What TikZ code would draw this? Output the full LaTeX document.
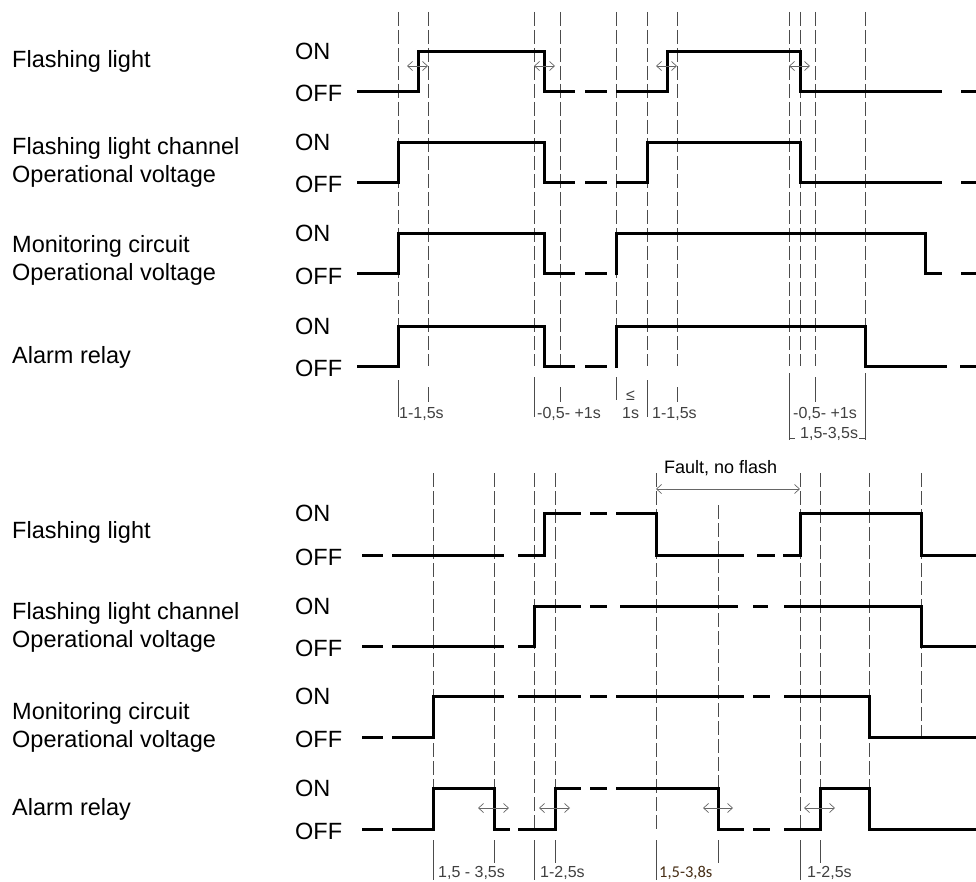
\documentclass[tikz,border=0pt]{standalone}
\usepackage{fontspec}
\setmainfont{Liberation Sans}
\newfontfamily\calfont{Carlito}
\usetikzlibrary{arrows.meta}
\begin{document}
\begin{tikzpicture}[x=1pt,y=-1pt,
 sig/.style={line width=3pt, line join=miter, line cap=butt},
 vl/.style={line width=0.9pt, black!70, dash pattern=on 14pt off 4pt},
 tk/.style={line width=0.9pt, black!70},
 lab/.style={anchor=base west, inner sep=0pt, font=\fontsize{23.5}{28}\selectfont},
 small/.style={anchor=base west, inner sep=0pt, font=\fontsize{16}{18}\selectfont, text=black!75},
 dimarr/.style={line width=0.7pt, black!60, {Straight Barb[length=5pt,width=9pt]}-{Straight Barb[length=5pt,width=9pt]}}
]
\useasboundingbox (0,0) rectangle (976,882);

% ---------- top diagram: vertical guide lines ----------
\foreach \x in {398,428,534,560,616,647,677,789,800,815,865}
  \draw[vl] (\x,12) -- (\x,366);
\foreach \x/\a/\b in {398/380/417,428/387/402,534/377/417,560/387/402,616/377/400,647/380/417,677/387/402,789/373/440,815/377/402,865/373/440}
  \draw[tk] (\x,\a) -- (\x,\b);
\draw[tk] (789,438) -- (795,438);
\draw[tk] (859,438) -- (865,438);

% ---------- bottom diagram: vertical guide lines ----------
\foreach \x/\t/\e in {433/473/829,494/473/829,534/473/829,555/473/829,656/473/829,718/505/829,800/473/829,820/473/829,869/473/788,921/473/737}
  \draw[vl] (\x,\t) -- (\x,\e);
\foreach \x/\b in {433/880,494/863,534/880,555/863,656/880,718/863,800/880,820/863}
  \draw[tk] (\x,840) -- (\x,\b);

% ---------- top signals ----------
% row 1
\draw[sig] (357,92) -- (418,92) -- (418,52) -- (544,52) -- (544,92) -- (575,92);
\draw[sig] (585,92) -- (607,92);
\draw[sig] (616,92) -- (667,92) -- (667,52) -- (800,52) -- (800,92) -- (942,92);
\draw[sig] (961,92) -- (976,92);
% row 2
\draw[sig] (357,183) -- (398,183) -- (398,143) -- (544,143) -- (544,183) -- (575,183);
\draw[sig] (585,183) -- (607,183);
\draw[sig] (616,183) -- (647,183) -- (647,143) -- (800,143) -- (800,183) -- (942,183);
\draw[sig] (961,183) -- (976,183);
% row 3
\draw[sig] (357,274) -- (398,274) -- (398,234) -- (544,234) -- (544,274) -- (575,274);
\draw[sig] (585,274) -- (607,274);
\draw[sig] (616,275.5) -- (616,234) -- (925,234) -- (925,274) -- (942,274);
\draw[sig] (961,274) -- (976,274);
% row 4
\draw[sig] (357,366) -- (398,366) -- (398,326) -- (544,326) -- (544,366) -- (575,366);
\draw[sig] (585,366) -- (607,366);
\draw[sig] (616,367.5) -- (616,326) -- (865,326) -- (865,366) -- (947,366);
\draw[sig] (960,366) -- (976,366);

% ---------- bottom signals ----------
% row 1
\draw[sig] (362,555) -- (383,555);
\draw[sig] (392,555) -- (504,555);
\draw[sig] (518,555) -- (544,555) -- (544,513) -- (581,513);
\draw[sig] (590,513) -- (607,513);
\draw[sig] (616,513) -- (656,513) -- (656,555) -- (744,555);
\draw[sig] (757,555) -- (775,555);
\draw[sig] (783,555) -- (800,555) -- (800,513) -- (921,513) -- (921,555) -- (976,555);
% row 2
\draw[sig] (362,646) -- (383,646);
\draw[sig] (392,646) -- (504,646);
\draw[sig] (518,646) -- (534,646) -- (534,606) -- (581,606);
\draw[sig] (590,606) -- (607,606);
\draw[sig] (620,606) -- (738,606);
\draw[sig] (753,606) -- (768,606);
\draw[sig] (784,606) -- (921,606) -- (921,646) -- (976,646);
% row 3
\draw[sig] (362,737) -- (383,737);
\draw[sig] (392,737) -- (433,737) -- (433,696) -- (504,696);
\draw[sig] (518,696) -- (581,696);
\draw[sig] (590,696) -- (607,696);
\draw[sig] (616,696) -- (744,696);
\draw[sig] (753,696) -- (770,696);
\draw[sig] (784,696) -- (869,696) -- (869,737) -- (976,737);
% row 4
\draw[sig] (362,829) -- (383,829);
\draw[sig] (392,829) -- (433,829) -- (433,788) -- (494,788) -- (494,829) -- (510,829);
\draw[sig] (518,829) -- (555,829) -- (555,788) -- (581,788);
\draw[sig] (590,788) -- (607,788);
\draw[sig] (616,788) -- (718,788) -- (718,829) -- (744,829);
\draw[sig] (753,829) -- (770,829);
\draw[sig] (784,829) -- (820,829) -- (820,788) -- (869,788) -- (869,829) -- (976,829);

% ---------- double arrows ----------
\foreach \a/\b in {407/428,534/555,656/677,789/810}
  \draw[dimarr] (\a,66) -- (\b,66);
\foreach \a/\b in {478/509,539/570,703/733,804/835}
  \draw[dimarr] (\a,808) -- (\b,808);
\draw[dimarr] (656,489) -- (800,489);
\node[anchor=base west, inner sep=0pt, font=\fontsize{18}{20}\selectfont] (fault) at (664,473) {Fault, no flash};

% ---------- left labels ----------
\node[lab] (t1) at (12,68) {Flashing light};
\node[lab] (t2a) at (12,155) {Flashing light channel};
\node[lab] (t2b) at (12,183) {Operational voltage};
\node[lab] (t3a) at (12,253) {Monitoring circuit};
\node[lab] (t3b) at (12,281) {Operational voltage};
\node[lab] (t4) at (12,363) {Alarm relay};

\node[lab] (b1) at (12,538) {Flashing light};
\node[lab] (b2a) at (12,619) {Flashing light channel};
\node[lab] (b2b) at (12,647) {Operational voltage};
\node[lab] (b3a) at (12,719) {Monitoring circuit};
\node[lab] (b3b) at (12,747) {Operational voltage};
\node[lab] (b4) at (12,815) {Alarm relay};

% ---------- ON / OFF ----------
\foreach \y [count=\i] in {52,143,234,326,513,606,696,788}
  \node[lab] (on\i) at (295,\y+8) {ON};
\foreach \y [count=\i] in {92,183,274,366,555,646,737,829}
  \node[lab] (off\i) at (295,\y+10) {OFF};

% ---------- time labels ----------
\node[small] (s1) at (399,418) {1-1,5s};
\node[small] (s2) at (537,418) {-0,5- +1s};
\node[small] (s3) at (626,400) {≤};
\node[small] (s4) at (622,418) {1s};
\node[small] (s5) at (652,418) {1-1,5s};
\node[small] (s6) at (793,418) {-0,5- +1s};
\node[small] (s7) at (800,438) {1,5-3,5s};

\node[small] (u1) at (438,877) {1,5 - 3,5s};
\node[small] (u2) at (540,877) {1-2,5s};
\node[anchor=base west, inner sep=0pt, font=\calfont\fontsize{16.5}{18}\selectfont, text={rgb,255:red,70;green,45;blue,20}] (u3) at (659,877) {1,5-3,8s};
\node[small] (u4) at (807,877) {1-2,5s};
\end{tikzpicture}
\end{document}
